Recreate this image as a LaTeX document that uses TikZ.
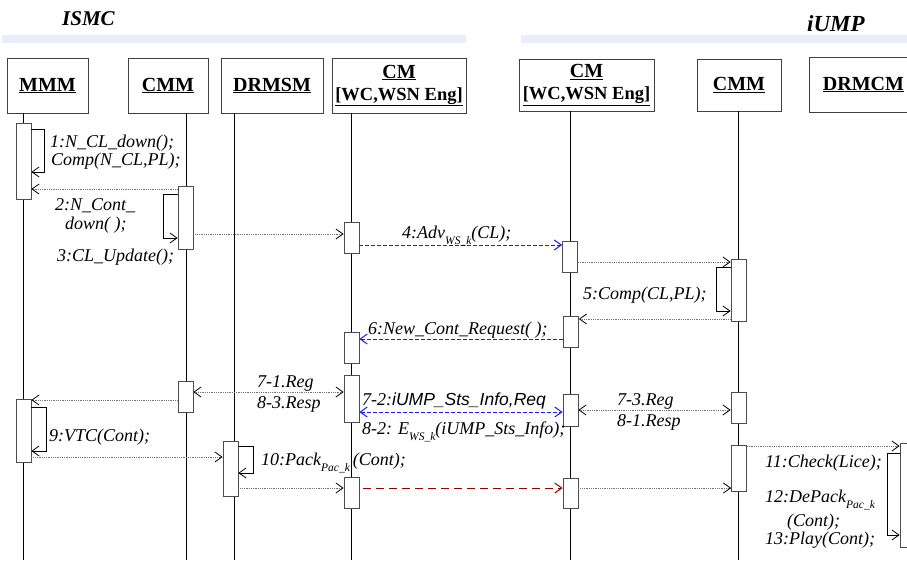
\documentclass[tikz,border=0pt]{standalone}
\usepackage{fontspec}
\setmainfont{Liberation Serif}
\newfontfamily\sansf{Liberation Sans}
\usetikzlibrary{arrows.meta}
\definecolor{barc}{RGB}{236,236,250}
\definecolor{bluec}{RGB}{25,25,255}
\definecolor{redc}{RGB}{150,0,0}
\newcommand\mysub[1]{\raisebox{-0.35em}{\fontsize{11.5}{11.5}\selectfont #1}}
\begin{document}
\begin{tikzpicture}[x=1pt,y=-1pt,
  hbox/.style={draw=black!75, line width=0.8pt, minimum height=55pt, inner sep=0pt, align=center, font=\fontsize{20}{22}\selectfont\bfseries},
  act/.style={draw=black!70, fill=white, line width=0.8pt, minimum width=15pt, inner sep=0pt},
  life/.style={line width=0.8pt, black},
  msgtip/.style={-{Straight Barb[length=7pt,width=10pt,color=black]}},
  msg/.style={draw=black!55, densely dotted, line width=0.8pt, msgtip},
  dmsg/.style={draw=black!55, densely dotted, line width=0.8pt, {Straight Barb[length=7pt,width=10pt,color=black]}-{Straight Barb[length=7pt,width=10pt,color=black]}},
  selfloop/.style={draw=black, line width=0.8pt, msgtip},
  bluemsg/.style={draw=bluec, dash pattern=on 4pt off 2pt, line width=1pt, -{Straight Barb[length=7pt,width=10pt]}},
  dbluemsg/.style={draw=bluec, dash pattern=on 4pt off 2pt, line width=1pt, {Straight Barb[length=7pt,width=10pt]}-{Straight Barb[length=7pt,width=10pt]}},
  redmsg/.style={draw=redc, dash pattern=on 8pt off 5pt, line width=1pt, -{Straight Barb[length=7pt,width=10pt]}},
  lbl/.style={anchor=base west, inner sep=0pt, font=\fontsize{18}{20}\selectfont\itshape},
  ttl/.style={anchor=base west, inner sep=0pt}
]
\useasboundingbox (0,0) rectangle (907,562);
\clip (0,0) rectangle (907,562);
\fill[white] (0,0) rectangle (907,562);

% titles and bars
\node[ttl, font=\fontsize{21}{22}\selectfont\bfseries\itshape] (tISMC) at (62,25) {ISMC};
\node[ttl, font=\fontsize{23}{24}\selectfont\bfseries\itshape] (tIUMP) at (807,31) {iUMP};
\fill[barc] (2,35) rectangle (466,43);
\fill[barc] (521,35) rectangle (907,43);

% header boxes
\node[hbox, minimum width=81pt] (hMMM) at (47.5,85.5) {\underline{MMM}};
\node[hbox, minimum width=80pt] (hCMM) at (168,85.5) {\underline{CMM}};
\node[hbox, minimum width=102pt] (hDRMSM) at (272,85.5) {\underline{DRMSM}};
\node[hbox, minimum width=134pt] (hCMl) at (399,85.5) {{\fontsize{20}{20}\selectfont\underline{CM}}\\{\fontsize{18.5}{20}\selectfont\underline{[WC,WSN Eng]}}};
\node[hbox, minimum width=135pt, minimum height=52pt] (hCMr) at (586.5,85) {{\fontsize{20}{20}\selectfont\underline{CM}}\\{\fontsize{18.5}{20}\selectfont\underline{[WC,WSN Eng]}}};
\node[hbox, minimum width=84pt, minimum height=52pt] (hCMMr) at (739,85) {\underline{CMM}};
\node[hbox, minimum width=109pt] (hDRMCM) at (863.5,84.5) {\underline{DRMCM}};

% lifelines
\draw[life] (hMMM.south -| 23.5,0) -- (23.5,560);
\draw[life] (hCMM.south -| 186,0) -- (186,560);
\draw[life] (hDRMSM.south -| 234.5,0) -- (234.5,560);
\draw[life] (hCMl.south -| 351.5,0) -- (351.5,560);
\draw[life] (hCMr.south -| 570,0) -- (570,560);
\draw[life] (hCMMr.south -| 738.5,0) -- (738.5,560);

% activations
\node[act, minimum height=76pt] (mA1) at (23.5,161) {};
\node[act, minimum height=63pt] (mA2) at (23.5,430.5) {};
\node[act, minimum height=63pt] (cA1) at (185.5,217.5) {};
\node[act, minimum height=31pt] (cA2) at (185.5,396.5) {};
\node[act, minimum height=55pt] (dA1) at (230.5,468.5) {};
\node[act, minimum height=31pt] (lA1) at (351.5,237.5) {};
\node[act, minimum height=31pt] (lA2) at (351.5,347.5) {};
\node[act, minimum height=47pt] (lA3) at (351.5,398.5) {};
\node[act, minimum height=31pt] (lA4) at (351.5,492.5) {};
\node[act, minimum height=31pt] (rA1) at (570,256.5) {};
\node[act, minimum height=31pt] (rA2) at (571,331.5) {};
\node[act, minimum height=32pt] (rA3) at (570.5,410) {};
\node[act, minimum height=30pt] (rA4) at (570.5,493) {};
\node[act, minimum height=62pt] (sA1) at (738.5,290) {};
\node[act, minimum height=31pt] (sA2) at (738.5,407.5) {};
\node[act, minimum height=46pt] (sA3) at (739,468) {};
\node[act, minimum height=104pt] (xA1) at (907.5,495) {};

% messages
\draw[selfloop] (mA1.east |- 0,129) -- (44,129) -- (44,172) -- (mA1.east |- 0,172);
\draw[msg] (cA1.west |- 0,189) -- (mA1.east |- 0,189);
\draw[selfloop] (cA1.west |- 0,194) -- (163,194) -- (163,238) -- (cA1.west |- 0,238);
\draw[msg] (cA1.east |- 0,234) -- (lA1.west |- 0,234);
\draw[bluemsg] (lA1.east |- 0,245) -- (rA1.west |- 0,245);
\draw[msg] (rA1.east |- 0,262) -- (sA1.west |- 0,262);
\draw[selfloop] (sA1.west |- 0,267) -- (716,267) -- (716,311) -- (sA1.west |- 0,311);
\draw[msg] (sA1.west |- 0,319) -- (rA2.east |- 0,319);
\draw[bluemsg] (rA2.west |- 0,339) -- (lA2.east |- 0,339);
\draw[dmsg] (cA2.east |- 0,392) -- (lA3.west |- 0,392);
\draw[msg] (cA2.west |- 0,400) -- (mA2.east |- 0,400);
\draw[dbluemsg] (lA3.east |- 0,412) -- (rA3.west |- 0,412);
\draw[dmsg] (rA3.east |- 0,410) -- (sA2.west |- 0,410);
\draw[selfloop] (mA2.east |- 0,407) -- (46,407) -- (46,451) -- (mA2.east |- 0,451);
\draw[msg] (mA2.east |- 0,457) -- (dA1.west |- 0,457);
\draw[selfloop] (dA1.east |- 0,446) -- (253,446) -- (253,473) -- (dA1.east |- 0,473);
\draw[msg] (dA1.east |- 0,488) -- (lA4.west |- 0,488);
\draw[redmsg] ([xshift=4pt]lA4.east |- 0,488) -- (rA4.west |- 0,488);
\draw[msg] (rA4.east |- 0,488) -- (sA3.west |- 0,488);
\draw[msg] (sA3.east |- 0,446) -- (xA1.west |- 0,446);
\draw[selfloop] (xA1.west |- 0,453) -- (887,453) -- (887,535) -- (xA1.west |- 0,535);

% labels
\node[lbl] (l1a) at (50,147) {1:N\_CL\_down();};
\node[lbl] (l1b) at (51,165) {Comp(N\_CL,PL);};
\node[lbl] (l2a) at (55,210) {2:N\_Cont\_};
\node[lbl] (l2b) at (65,229) {down( );};
\node[lbl] (l3) at (57,261) {3:CL\_Update();};
\node[lbl] (l4) at (402,238) {4:Adv\mysub{WS\_k}(CL);};
\node[lbl] (l5) at (583,299) {5:Comp(CL,PL);};
\node[lbl] (l6) at (368,334) {6:New\_Cont\_Request( );};
\node[lbl] (l71) at (257,387) {7-1.Reg};
\node[lbl] (l83) at (257,408) {8-3.Resp};
\node[lbl] (l72) at (362,405) {7-2:{\sansf\fontsize{17.5}{20}\selectfont iUMP\_Sts\_Info,Req}};
\node[lbl] (l82) at (362,434) {8-2: E\mysub{WS\_k}(iUMP\_Sts\_Info);};
\node[lbl] (l73) at (617,405) {7-3.Reg};
\node[lbl] (l81) at (617,426) {8-1.Resp};
\node[lbl] (l9) at (49,441) {9:VTC(Cont);};
\node[lbl] (l10) at (261,465) {10:Pack\mysub{Pac\_k}\,(Cont);};
\node[lbl] (l11) at (765,467) {11:Check(Lice);};
\node[lbl] (l12) at (765,502) {12:DePack\mysub{Pac\_k}};
\node[lbl] (l12b) at (787,526) {(Cont);};
\node[lbl] (l13) at (765,544) {13:Play(Cont);};
\end{tikzpicture}
\end{document}
